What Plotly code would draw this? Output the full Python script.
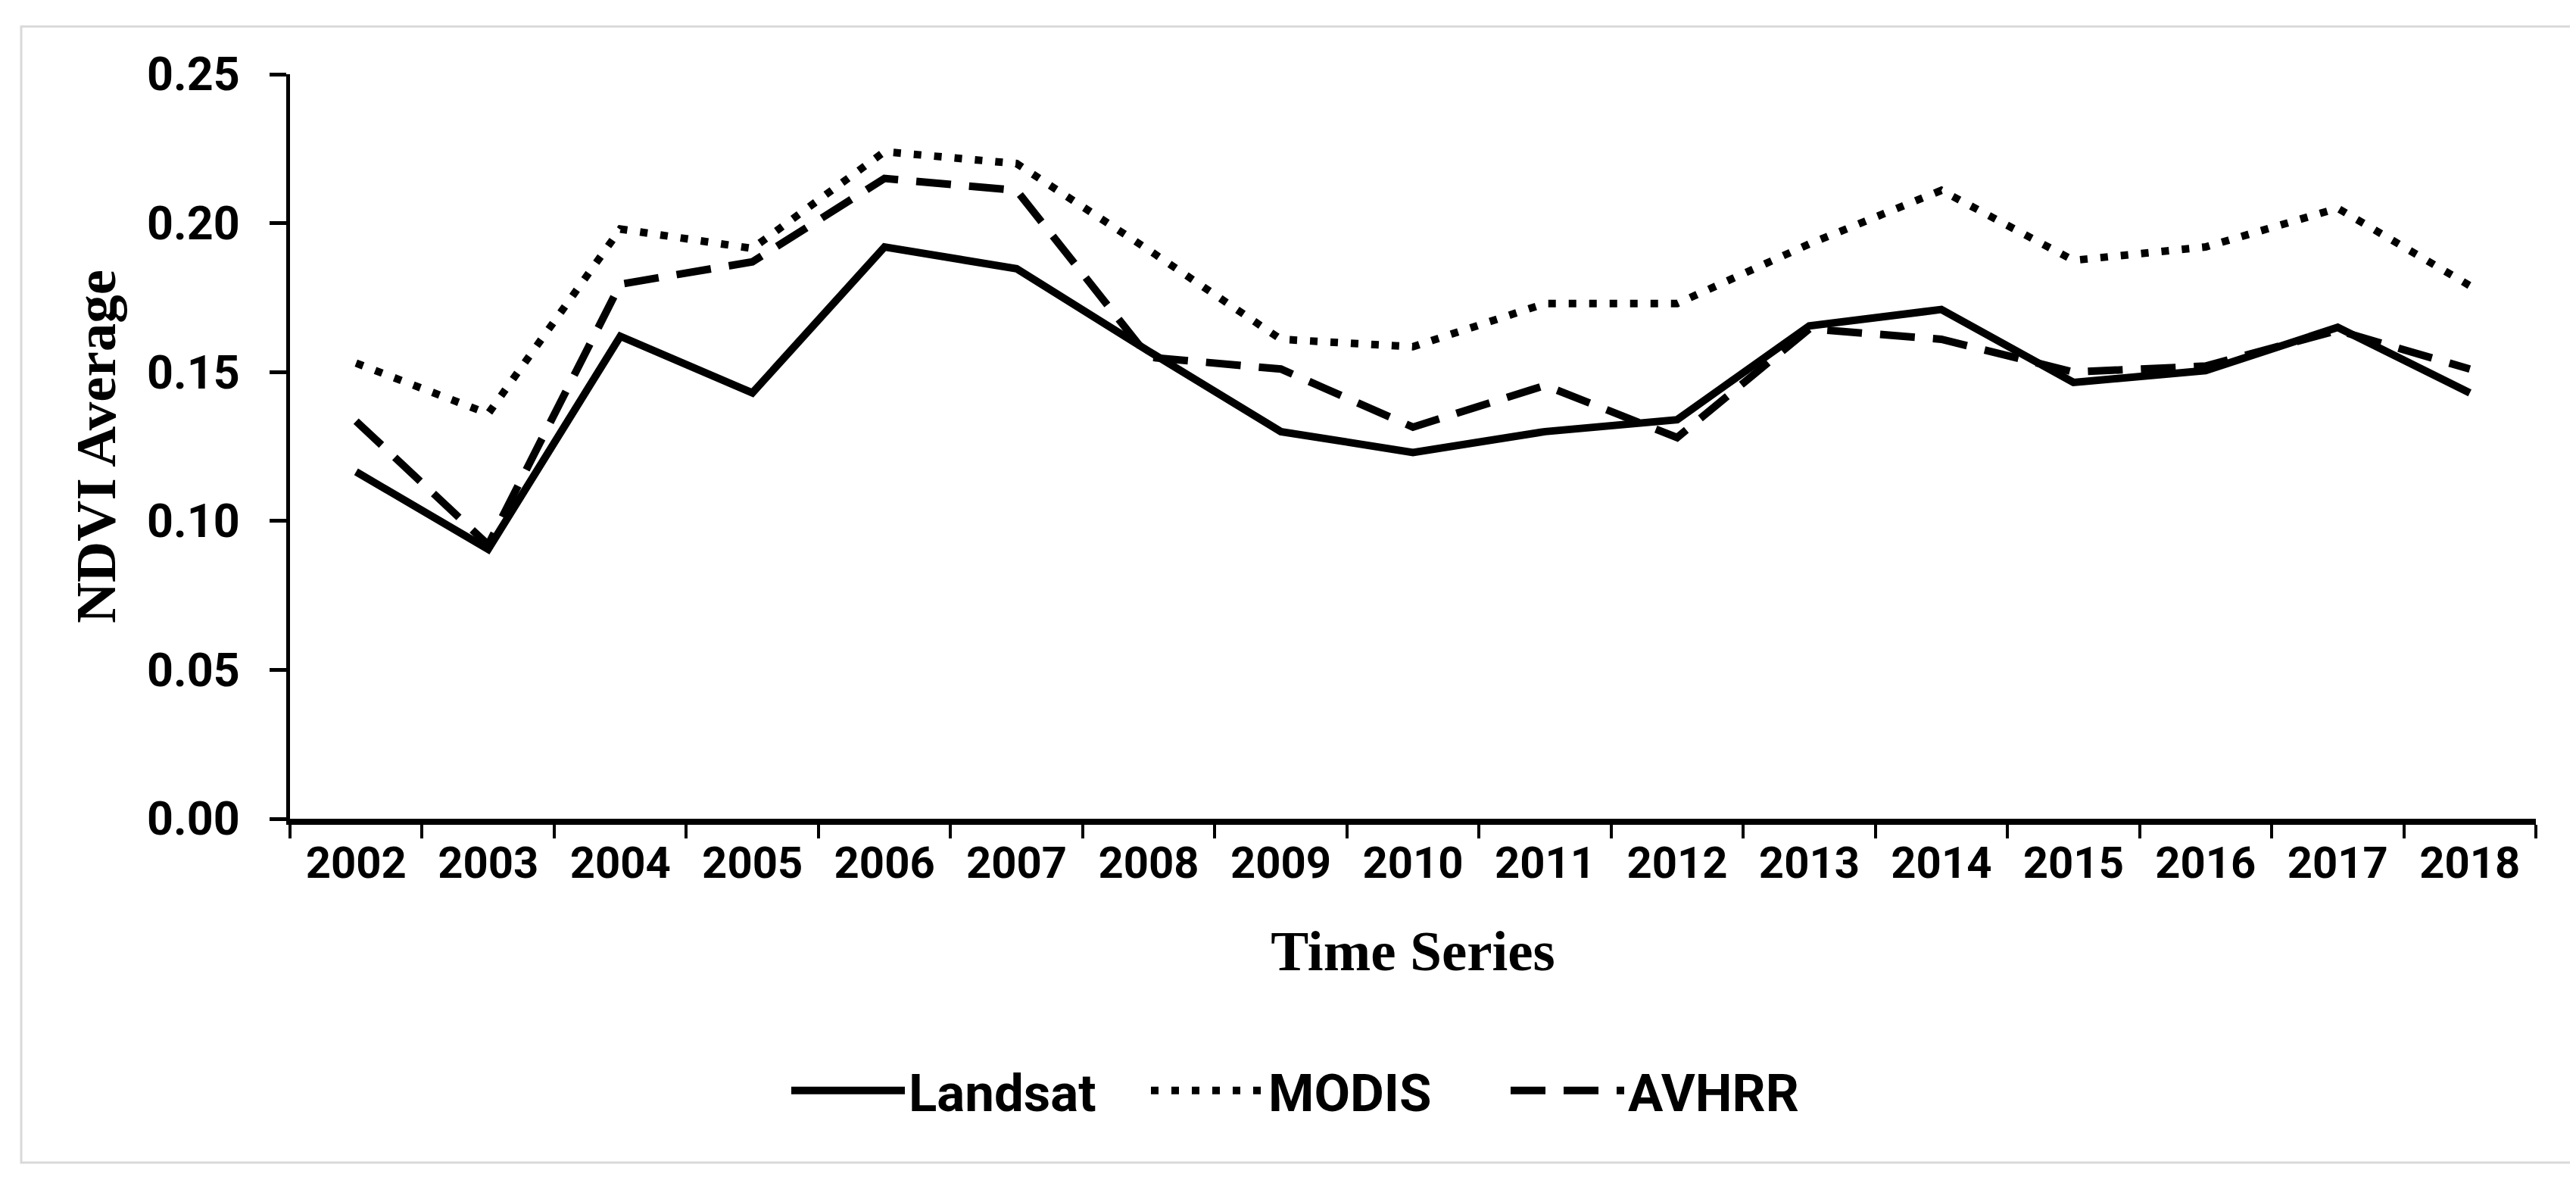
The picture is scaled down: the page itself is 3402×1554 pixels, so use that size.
import plotly.graph_objects as go

years = ["2002", "2003", "2004", "2005", "2006", "2007", "2008", "2009", "2010",
         "2011", "2012", "2013", "2014", "2015", "2016", "2017", "2018"]
landsat = [0.1165, 0.0905, 0.162, 0.143, 0.192, 0.1847, 0.157, 0.130, 0.123,
           0.1300, 0.134, 0.1655, 0.171, 0.1465, 0.1505, 0.165, 0.143]
modis = [0.153, 0.136, 0.198, 0.1915, 0.224, 0.220, 0.191, 0.161, 0.1585,
         0.173, 0.173, 0.193, 0.211, 0.1875, 0.192, 0.205, 0.179]
avhrr = [0.1335, 0.092, 0.1795, 0.187, 0.215, 0.211, 0.155, 0.151, 0.1315,
         0.1455, 0.128, 0.1645, 0.161, 0.150, 0.152, 0.164, 0.151]
y_ticks = [0.00, 0.05, 0.10, 0.15, 0.20, 0.25]

W, H = 3402, 1554
L, R, T, B = 375, 61, 90, 481

fig = go.Figure()
fig.add_trace(go.Scatter(x=years, y=landsat, name="Landsat", mode="lines",
                         line=dict(color="black", width=10)))
fig.add_trace(go.Scatter(x=years, y=modis, name="MODIS", mode="lines",
                         line=dict(color="black", width=10, dash="10px,17px")))
fig.add_trace(go.Scatter(x=years, y=avhrr, name="AVHRR", mode="lines",
                         line=dict(color="black", width=10, dash="46px,24px")))

pw = W - L - R
ph = H - T - B
def px2paper_x(px):
    return (px - L) / pw
def px2paper_y(py):
    return (H - B - py) / ph

fig.add_shape(type="rect", xref="paper", yref="paper",
              x0=px2paper_x(20), x1=px2paper_x(3396),
              y0=px2paper_y(1527), y1=px2paper_y(27),
              line=dict(color="#d9d9d9", width=3), layer="below")

fig.update_layout(
    width=W, height=H,
    margin=dict(l=L, r=R, t=T, b=B),
    paper_bgcolor="white", plot_bgcolor="white",
    font=dict(family="Roboto", color="black"),
    showlegend=True,
    legend=dict(orientation="h", xref="container", yref="container",
                x=1032 / W, xanchor="left", y=1 - 1432 / H, yanchor="middle",
                font=dict(family="Roboto", size=69, weight="bold", color="black"),
                itemwidth=150, entrywidth=310, entrywidthmode="pixels",
                tracegroupgap=0, bgcolor="rgba(0,0,0,0)"),
    xaxis=dict(
        type="category", range=[-0.5, len(years) - 0.5],
        showline=True, linecolor="black", linewidth=8,
        ticks="outside", tickson="boundaries", ticklen=18, tickwidth=4,
        tickcolor="black", showgrid=False, zeroline=False,
        tickfont=dict(family="Roboto", size=58, weight="bold", color="black"),
        title=dict(text="Time Series", standoff=60,
                   font=dict(family="Liberation Serif", size=75, weight="bold",
                             color="black")),
    ),
    yaxis=dict(
        range=[0, 0.25], tickvals=y_ticks, tickformat=".2f",
        showline=True, linecolor="black", linewidth=5,
        ticks="outside", ticklen=22, tickwidth=5, tickcolor="black",
        showgrid=False, zeroline=False,
        tickfont=dict(family="Roboto", size=61, weight="bold", color="black"),
        ticklabelstandoff=27,
        title=dict(text="NDVI Average", standoff=18,
                   font=dict(family="Liberation Serif", size=75, weight="bold",
                             color="black")),
    ),
)

fig.write_html("out.html")
